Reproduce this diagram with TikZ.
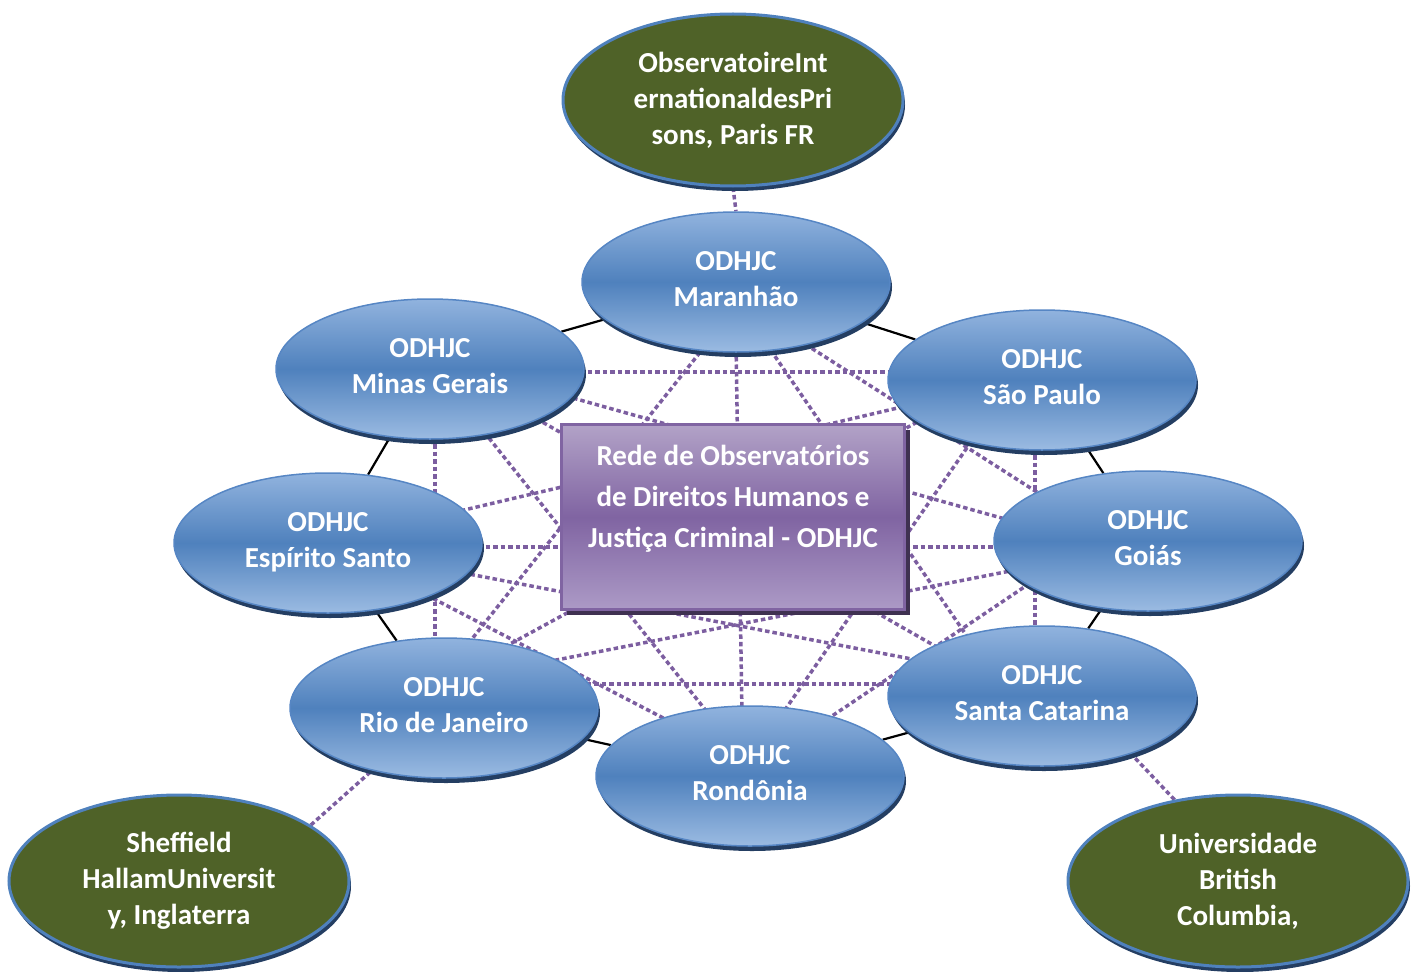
\documentclass[tikz,border=0pt]{standalone}
\usepackage{fontspec}
\setmainfont{Carlito}
\usetikzlibrary{shapes.geometric,shadows,backgrounds}
\definecolor{bTop}{RGB}{145,179,222}
\definecolor{bMid}{RGB}{79,129,189}
\definecolor{bBot}{RGB}{155,187,226}
\definecolor{bEdge}{RGB}{86,134,196}
\definecolor{bShadow}{RGB}{36,62,98}
\definecolor{gFill}{RGB}{79,98,40}
\definecolor{gEdge}{RGB}{79,129,189}
\definecolor{pTop}{RGB}{178,162,199}
\definecolor{pMid}{RGB}{128,100,162}
\definecolor{pBot}{RGB}{172,154,198}
\definecolor{pEdge}{RGB}{128,100,162}
\definecolor{pShadow}{RGB}{63,49,81}
\definecolor{meshc}{RGB}{124,94,160}
\begin{document}
\begin{tikzpicture}[x=1pt,y=-1pt,
  lbl/.style={font=\fontsize{29}{36}\selectfont\bfseries, text=white, align=center},
  blueell/.style={ellipse, lbl, minimum width=308pt, minimum height=140pt, inner sep=0pt,
    text height=55pt, text depth=7pt,
    top color=bTop, bottom color=bBot, middle color=bMid, draw=bEdge, line width=1.5pt,
    drop shadow={shadow xshift=2pt, shadow yshift=-5pt, fill=bShadow, opacity=1}},
  greenell/.style={ellipse, lbl, minimum width=340pt, minimum height=172pt, inner sep=0pt,
    fill=gFill, draw=gEdge, line width=3pt,
    drop shadow={shadow xshift=2pt, shadow yshift=-5pt, fill=bShadow, opacity=1}},
  hubbox/.style={rectangle, lbl, font=\fontsize{29}{41}\selectfont\bfseries,
    minimum width=343pt, minimum height=185pt, inner sep=0pt,
    top color=pTop, bottom color=pBot, middle color=pMid, draw=pEdge, line width=3pt,
    drop shadow={shadow xshift=5pt, shadow yshift=-5pt, fill=pShadow, opacity=1}},
  mesh/.style={draw=meshc, line width=3.5pt, dash pattern=on 4.5pt off 3pt},
  ring/.style={draw=black, line width=2.2pt}
]
\useasboundingbox (0,0) rectangle (1420,971);

\node[greenell] (paris) at (733,100) {ObservatoireInt\\ernationaldesPri\\sons, Paris FR};
\node[greenell] (shef) at (179,881) {Sheffield\\HallamUniversit\\y, Inglaterra};
\node[greenell] (ubc) at (1238,881) {Universidade\\British\\Columbia,};

\node[blueell] (m)  at (736,282) {ODHJC\\Maranhão};
\node[blueell] (mg) at (430,369) {ODHJC\\Minas Gerais};
\node[blueell] (sp) at (1042,380) {ODHJC\\São Paulo};
\node[blueell] (es) at (328,543) {ODHJC\\Espírito Santo};
\node[blueell] (g)  at (1148,541) {ODHJC\\Goiás};
\node[blueell] (rj) at (444,708) {ODHJC\\Rio de Janeiro};
\node[blueell] (sc) at (1042,696) {ODHJC\\Santa Catarina};
\node[blueell] (r)  at (750,776) {ODHJC\\Rondônia};

\node[hubbox] (hub) at (733,517) {Rede de Observatórios\\de Direitos Humanos e\\Justiça Criminal - ODHJC\\\mbox{}};

\begin{scope}[on background layer]
  % ring
  \draw[ring] (m) -- (sp);
  \draw[ring] (sp) -- (g);
  \draw[ring] (g) -- (sc);
  \draw[ring] (sc) -- (r);
  \draw[ring] (r) -- (rj);
  \draw[ring] (rj) -- (es);
  \draw[ring] (es) -- (mg);
  \draw[ring] (mg) -- (m);
  % mesh
  \draw[mesh] ([shift={(0,3)}]mg.center) -- ([shift={(0,-8)}]sp.center);
  \draw[mesh] ([shift={(0,4)}]es.center) -- ([shift={(0,6)}]g.center);
  \draw[mesh] ([shift={(0,-24)}]rj.center) -- ([shift={(0,-12)}]sc.center);
  \draw[mesh] ([shift={(5,0)}]mg.center) -- ([shift={(-9,0)}]rj.center);
  \draw[mesh] ([shift={(-7,0)}]sp.center) -- ([shift={(-7,0)}]sc.center);
  \draw[mesh] ([shift={(-1,0)}]m.center) -- ([shift={(-7,0)}]r.center);
  \draw[mesh] ([shift={(0,18)}]m.center) -- ([shift={(0,22)}]g.center);
  \draw[mesh] ([shift={(-12,0)}]m.center) -- ([shift={(-34,0)}]sc.center);
  \draw[mesh] ([shift={(20,0)}]m.center) -- ([shift={(-27,0)}]rj.center);
  \draw[mesh] ([shift={(-28,0)}]sp.center) -- ([shift={(-11,0)}]r.center);
  \draw[mesh] ([shift={(0,-26)}]sp.center) -- ([shift={(0,-28)}]rj.center);
  \draw[mesh] ([shift={(0,-6)}]sp.center) -- ([shift={(0,-1)}]es.center);
  \draw[mesh] ([shift={(0,18)}]g.center) -- ([shift={(0,-11)}]mg.center);
  \draw[mesh] ([shift={(0,3)}]g.center) -- ([shift={(0,-26)}]rj.center);
  \draw[mesh] ([shift={(0,-37)}]g.center) -- ([shift={(0,-5)}]r.center);
  \draw[mesh] ([shift={(0,-12)}]sc.center) -- ([shift={(0,4)}]es.center);
  \draw[mesh] ([shift={(0,11)}]sc.center) -- ([shift={(0,-11)}]mg.center);
  \draw[mesh] ([shift={(0,-13)}]r.center) -- ([shift={(0,1)}]es.center);
  \draw[mesh] ([shift={(8,0)}]r.center) -- ([shift={(4,0)}]mg.center);
  % outer links
  \draw[mesh] (paris.south) -- (m.north);
  \draw[mesh] (shef.23) -- (rj.221);
  \draw[mesh] (ubc.128) -- (sc.327);
\end{scope}
\end{tikzpicture}
\end{document}
